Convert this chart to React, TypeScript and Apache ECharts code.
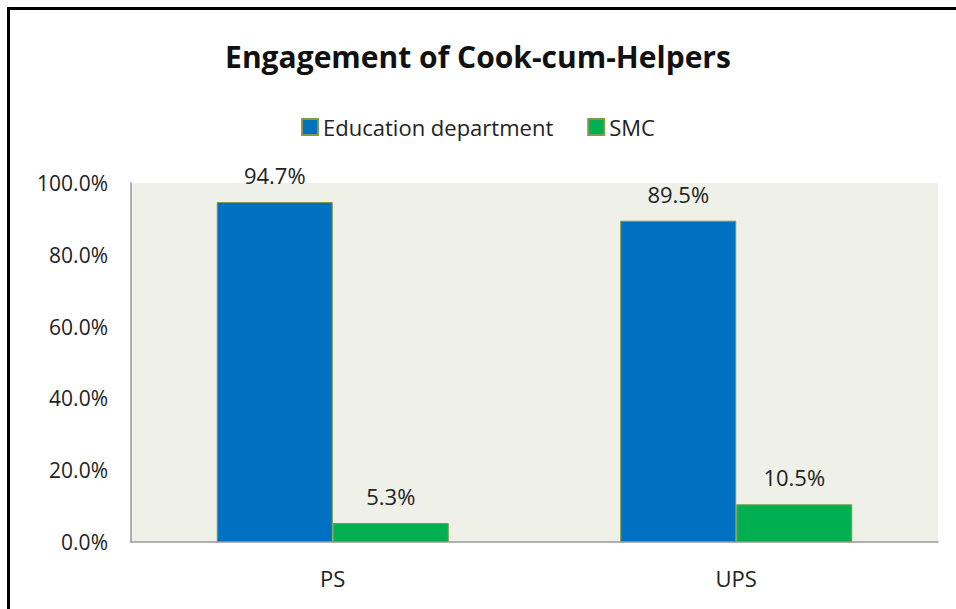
import React, { useEffect, useRef } from "react";
import * as echarts from "echarts";

const categories = ["PS", "UPS"];
const educationDept = [94.7, 89.5];
const smc = [5.3, 10.5];
const seriesNames = ["Education department", "SMC"];
const titleText = "Engagement of Cook-cum-Helpers";

const FONT = "'Open Sans', 'Noto Sans', sans-serif";

export default function App() {
  const ref = useRef<HTMLDivElement>(null);
  useEffect(() => {
    document.body.style.margin = "0";
    const chart = echarts.init(ref.current!, null, { renderer: "svg" });
    const label = {
      show: true,
      position: "top",
      distance: 16,
      color: "#222",
      fontSize: 22,
      fontFamily: FONT,
      formatter: (p: any) => p.value.toFixed(1) + "%",
    };
    chart.setOption({
      animation: false,
      backgroundColor: "#fff",
      title: {
        text: titleText,
        left: "center",
        top: 36,
        textStyle: { fontFamily: FONT, fontWeight: "bold", fontSize: 30, color: "#111" },
      },
      legend: {
        top: 111,
        left: "center",
        itemWidth: 16,
        itemHeight: 16,
        itemGap: 34,
        icon: "rect",
        textStyle: { fontFamily: FONT, fontSize: 22, color: "#222" },
        data: seriesNames,
      },
      graphic: [
        {
          type: "rect",
          shape: { x: 8.5, y: 8.5, width: 1000, height: 700 },
          style: { fill: "none", stroke: "#000", lineWidth: 3 },
          z: 100,
        },
      ],
      grid: {
        left: 131,
        right: 18,
        top: 183,
        bottom: 67,
        show: true,
        backgroundColor: "#EFF1E9",
        borderWidth: 0,
      },
      xAxis: {
        type: "category",
        data: categories,
        axisTick: { show: false },
        axisLine: { lineStyle: { color: "#999", width: 1.5 } },
        axisLabel: { color: "#222", fontSize: 22, fontFamily: FONT, margin: 25 },
      },
      yAxis: {
        type: "value",
        min: 0,
        max: 100,
        interval: 20,
        splitLine: { show: false },
        axisTick: { show: false },
        axisLine: { show: true, lineStyle: { color: "#999", width: 1.5 } },
        axisLabel: {
          color: "#222",
          fontSize: 21,
          fontFamily: FONT,
          margin: 23,
          formatter: (v: number) => v.toFixed(1) + "%",
        },
      },
      series: [
        {
          name: seriesNames[0],
          type: "bar",
          data: educationDept,
          barGap: "0%",
          barCategoryGap: "42.5%",
          itemStyle: { color: "#0070C0", borderColor: "#7F9A48", borderWidth: 1 },
          label,
        },
        {
          name: seriesNames[1],
          type: "bar",
          data: smc,
          barGap: "0%",
          barCategoryGap: "42.5%",
          itemStyle: { color: "#00B050", borderColor: "#7F9A48", borderWidth: 1 },
          label,
        },
      ],
    });
    return () => chart.dispose();
  }, []);
  return (
    <div
      ref={ref}
      style={{ position: "fixed", left: 0, top: 0, width: 956, height: 609 }}
    />
  );
}
